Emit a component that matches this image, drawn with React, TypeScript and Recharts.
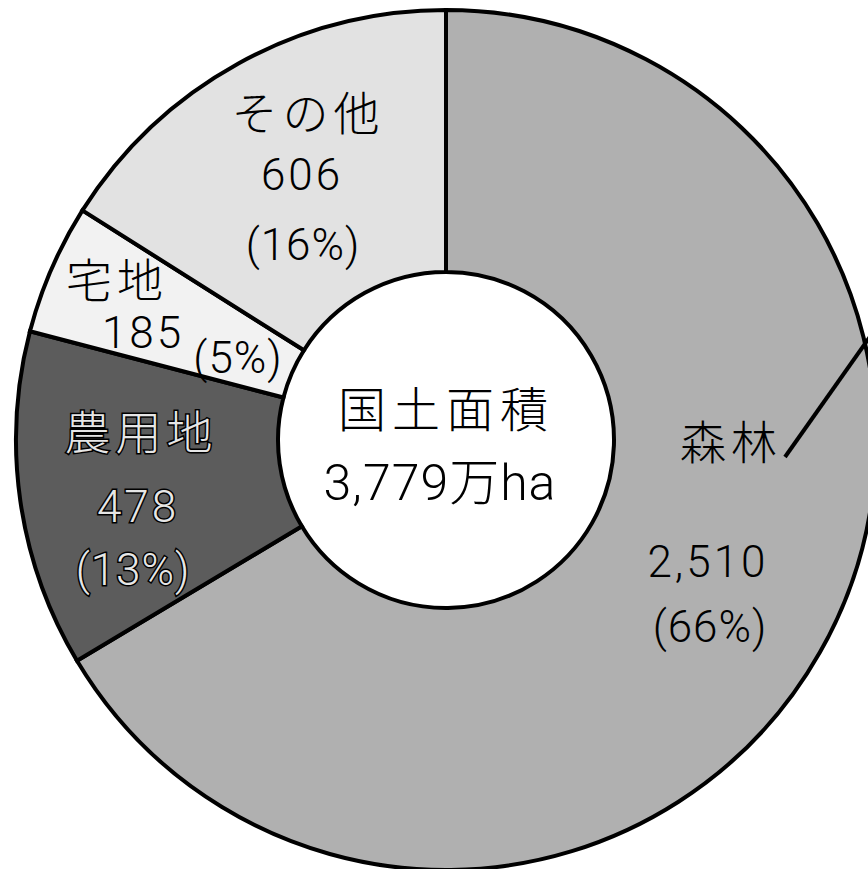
import { PieChart, Pie, Cell } from 'recharts'

const NAMES = ['森林', '農用地', '宅地', 'その他']
const VALUES = [2510, 478, 185, 606]
const TOTAL_LABEL = ['国土面積', '3,779万ha']

const COLORS = ['#b0b0b0', '#5c5c5c', '#f2f2f2', '#e2e2e2']

// label line offsets from the pie centre: [dx, baseline dy] for name / value / percent
const LABEL_LAYOUT = [
  { name: [285, 19], value: [262, 137], pct: [264, 202] },
  { name: [-305, 9], value: [-308, 82], pct: [-313, 145] },
  { name: [-329, -143], value: [-303, -92], pct: [-208, -67] },
  { name: [-138, -310], value: [-144, -250], pct: [-143, -180] },
]

const CJK_FONT = '"Noto Sans CJK JP", "Noto Sans", sans-serif'
const NUM_FONT = 'Roboto, "Noto Sans CJK JP", sans-serif'

const chartData = NAMES.map((name, i) => ({ name, value: VALUES[i] }))
const total = VALUES.reduce((s, v) => s + v, 0)

function renderLabel(props: any) {
  const { cx, cy, index } = props
  const layout = LABEL_LAYOUT[index]
  const value = VALUES[index]
  const pct = Math.round((value / total) * 100)
  const dark = index === 1
  const textProps = dark
    ? { fill: '#e6e6e6', stroke: '#000', strokeWidth: 3, paintOrder: 'stroke' as const }
    : { fill: '#000' }

  return (
    <g key={`label-${index}`}>
      <text
        x={cx + layout.name[0]}
        y={cy + layout.name[1]}
        textAnchor="middle"
        fontSize={46}
        fontWeight={300}
        letterSpacing={5}
        fontFamily={CJK_FONT}
        {...textProps}
      >
        {NAMES[index]}
      </text>
      <text
        x={cx + layout.value[0]}
        y={cy + layout.value[1]}
        textAnchor="middle"
        fontSize={44}
        fontWeight={300}
        letterSpacing={3}
        fontFamily={NUM_FONT}
        {...textProps}
      >
        {value.toLocaleString('en-US')}
      </text>
      <text
        x={cx + layout.pct[0]}
        y={cy + layout.pct[1]}
        textAnchor="middle"
        fontSize={44}
        fontWeight={300}
        letterSpacing={1}
        fontFamily={NUM_FONT}
        {...textProps}
      >
        {`(${pct}%)`}
      </text>
      {index === 0 && (
        <>
          <line
            x1={cx + 339}
            y1={cy + 17}
            x2={cx + 440}
            y2={cy - 126}
            stroke="#000"
            strokeWidth={4}
          />
          <text
            x={cx}
            y={cy - 13}
            textAnchor="middle"
            fontSize={48}
            fontWeight={300}
            letterSpacing={6}
            fontFamily={CJK_FONT}
            fill="#000"
          >
            {TOTAL_LABEL[0]}
          </text>
          <text
            x={cx - 6}
            y={cy + 60}
            textAnchor="middle"
            fontSize={50}
            fontWeight={300}
            letterSpacing={1}
            fontFamily={NUM_FONT}
            fill="#000"
          >
            {TOTAL_LABEL[1]}
          </text>
        </>
      )}
    </g>
  )
}

export default function App() {
  return (
    <div style={{ position: 'absolute', left: 0, top: 0, width: 868, height: 869, background: '#fff' }}>
      <PieChart width={868} height={869}>
        <Pie
          data={chartData}
          dataKey="value"
          nameKey="name"
          cx={441}
          cy={435}
          innerRadius={168}
          outerRadius={430}
          startAngle={90}
          endAngle={-270}
          stroke="#000"
          strokeWidth={4}
          label={renderLabel}
          labelLine={false}
          isAnimationActive={false}
        >
          {chartData.map((_, i) => (
            <Cell key={`cell-${i}`} fill={COLORS[i]} />
          ))}
        </Pie>
      </PieChart>
    </div>
  )
}
